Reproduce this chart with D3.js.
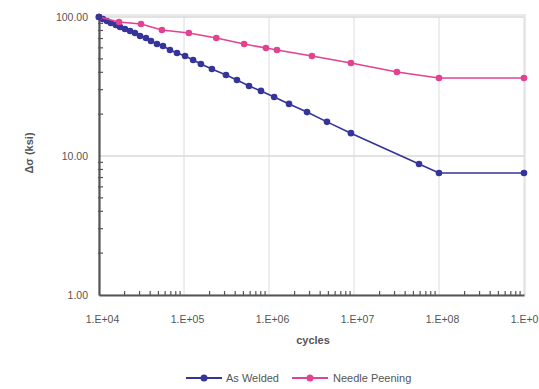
<!DOCTYPE html>
<html>
<head>
<meta charset="utf-8">
<script src="https://cdn.jsdelivr.net/npm/d3@7"></script>
<style>
  body { margin: 0; background: #fff; }
  svg text { font-family: 'Liberation Sans', Arial, sans-serif; }
</style>
</head>
<body>
<svg id="chart" width="539" height="389"></svg>
<script>
// fatigue curves, stress range (ksi) vs cycles
const asWeldedCycles = [1e4, 1.11e4, 1.24e4, 1.38e4, 1.58e4, 1.77e4, 2.02e4, 2.32e4, 2.65e4, 3.04e4, 3.57e4, 4.09e4,
  4.81e4, 5.66e4, 6.84e4, 8.27e4, 1.03e5, 1.28e5, 1.58e5, 2.13e5, 3.12e5, 4.2e5, 5.82e5, 8.05e5, 1.15e6, 1.72e6,
  2.8e6, 4.81e6, 9.2e6, 5.82e7, 1e8, 1e9];
const asWeldedStress = [100, 96.7, 93.6, 90.5, 87.6, 84.8, 82, 79.3, 76.7, 73, 70.6, 67.2,
  63.9, 61.8, 57.9, 55.1, 52.4, 49.1, 45.9, 42.3, 38.3, 35.2, 31.9, 29.4, 26.6, 23.7,
  20.7, 17.6, 14.6, 8.76, 7.55, 7.55];
const peeningCycles = [1e4, 1.72e4, 3.12e4, 5.5e4, 1.14e5, 2.4e5, 5.1e5, 9.2e5, 1.24e6, 3.2e6, 9.2e6, 3.2e7, 1e8, 1e9];
const peeningStress = [100, 92, 89.1, 80.6, 76.7, 70.6, 63.9, 59.8, 57.9, 52.4, 46.7, 40.2, 36.4, 36.4];
const xTicks = [1e4, 1e5, 1e6, 1e7, 1e8, 1e9];
const xTickLabels = ['1.E+04', '1.E+05', '1.E+06', '1.E+07', '1.E+08', '1.E+09'];
const yTicks = [1, 10, 100];
const yTickLabels = ['1.00', '10.00', '100.00'];

const series = [
  { name: 'As Welded', color: '#34349a', xs: asWeldedCycles, ys: asWeldedStress },
  { name: 'Needle Peening', color: '#e2428f', xs: peeningCycles, ys: peeningStress }
];

const margin = { top: 17, right: 15, bottom: 94, left: 99 };
const width = 539 - margin.left - margin.right;
const height = 389 - margin.top - margin.bottom;

const svg = d3.select('#chart');
const g = svg.append('g').attr('transform', `translate(${margin.left},${margin.top})`);

const x = d3.scaleLog().domain([1e4, 1e9]).range([0, width]);
const y = d3.scaleLog().domain([1, 100]).range([height, 0]);

// minor tick positions (2..9 in each decade)
const minorX = [];
for (let e = 4; e < 9; e++) for (let m = 2; m <= 9; m++) minorX.push(m * Math.pow(10, e));
const minorY = [];
for (let e = 0; e < 2; e++) for (let m = 2; m <= 9; m++) minorY.push(m * Math.pow(10, e));

// plot area frame (light)
g.append('rect').attr('x', 0).attr('y', -2).attr('width', width + 1).attr('height', height + 2)
  .attr('fill', 'none').attr('stroke', '#e4e4e4').attr('stroke-width', 1.5);

// grid
g.append('g').selectAll('line.vg').data(xTicks.slice(1)).enter().append('line')
  .attr('x1', d => x(d)).attr('x2', d => x(d)).attr('y1', 0).attr('y2', height)
  .attr('stroke', '#dcdcdc').attr('stroke-width', 1);
g.append('g').selectAll('line.hg').data(yTicks.slice(1)).enter().append('line')
  .attr('x1', 0).attr('x2', width).attr('y1', d => y(d)).attr('y2', d => y(d))
  .attr('stroke', '#d8d8d8').attr('stroke-width', 1.5);

// x axis
const xAxis = g.append('g').attr('transform', `translate(0,${height})`)
  .call(d3.axisBottom(x).tickValues(xTicks).tickSize(0).tickPadding(21)
    .tickFormat((d, i) => xTickLabels[i]));
xAxis.select('.domain').attr('stroke', '#555').attr('stroke-width', 2.2);
xAxis.selectAll('text').attr('font-size', 10.5).attr('fill', '#555').attr('dx', 3);
g.append('g').selectAll('line').data(minorX).enter().append('line')
  .attr('x1', d => x(d)).attr('x2', d => x(d)).attr('y1', height - 4).attr('y2', height + 1)
  .attr('stroke', '#555').attr('stroke-width', 1.2);

// y axis
const yAxis = g.append('g')
  .call(d3.axisLeft(y).tickValues(yTicks).tickSize(0).tickPadding(11)
    .tickFormat((d, i) => yTickLabels[i]));
yAxis.select('.domain').attr('stroke', '#555').attr('stroke-width', 2.2);
yAxis.selectAll('text').attr('font-size', 10.5).attr('fill', '#555');
g.append('g').selectAll('line').data(minorY).enter().append('line')
  .attr('x1', -1).attr('x2', 4).attr('y1', d => y(d)).attr('y2', d => y(d))
  .attr('stroke', '#555').attr('stroke-width', 1.2);

// axis titles
svg.append('text').attr('x', 313).attr('y', 344).attr('text-anchor', 'middle')
  .attr('font-size', 11).attr('font-weight', 'bold').attr('fill', '#555').text('cycles');
svg.append('text').attr('transform', 'translate(33,153) rotate(-90)').attr('text-anchor', 'middle')
  .attr('font-size', 11).attr('font-weight', 'bold').attr('fill', '#555').text('Δσ (ksi)');

// lines and markers
const line = d3.line().x(d => x(d[0])).y(d => y(d[1]));
series.forEach(s => {
  const pts = s.xs.map((v, i) => [v, s.ys[i]]);
  g.append('path').datum(pts).attr('d', line)
    .attr('fill', 'none').attr('stroke', s.color).attr('stroke-width', 1.6);
  g.append('g').selectAll('circle').data(pts).enter().append('circle')
    .attr('cx', d => x(d[0])).attr('cy', d => y(d[1])).attr('r', 3.3)
    .attr('fill', s.color);
});
// first As Welded marker on top, as in the reference
g.append('circle').attr('cx', x(asWeldedCycles[0])).attr('cy', y(asWeldedStress[0])).attr('r', 3.3).attr('fill', series[0].color);

// legend
const legendItems = [
  { s: series[0], x0: 186, tx: 226 },
  { s: series[1], x0: 292, tx: 333 }
];
legendItems.forEach(it => {
  const ly = 378;
  svg.append('line').attr('x1', it.x0).attr('x2', it.x0 + 36).attr('y1', ly).attr('y2', ly)
    .attr('stroke', it.s.color).attr('stroke-width', 2);
  svg.append('circle').attr('cx', it.x0 + 18).attr('cy', ly).attr('r', 3.5).attr('fill', it.s.color);
  svg.append('text').attr('x', it.tx).attr('y', ly + 4).attr('font-size', 11).attr('fill', '#555')
    .text(it.s.name);
});
</script>
</body>
</html>
